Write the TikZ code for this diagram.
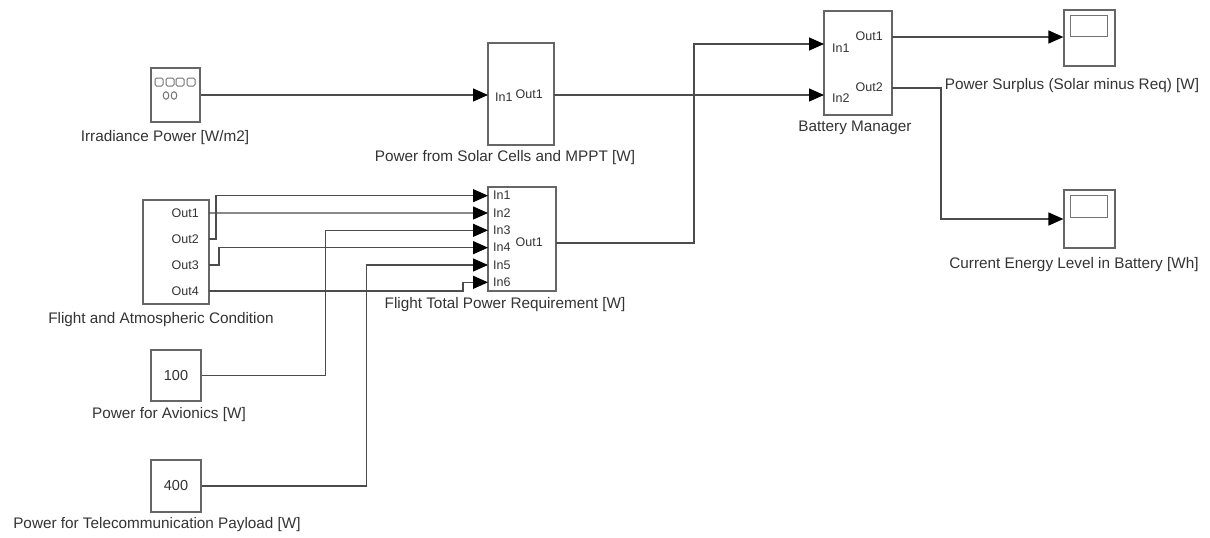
\documentclass[tikz,border=0pt]{standalone}
\usepackage{fontspec}
\setmainfont{Liberation Sans}
\usetikzlibrary{arrows.meta,calc}

\begin{document}
\begin{tikzpicture}[x=1pt,y=-1pt,
  blk/.style={draw=black!60,line width=1.2pt,fill=white,inner sep=0pt,text=black!80,font=\fontsize{14.5}{16}\selectfont},
  wire/.style={draw=black!70,line width=1.4pt},
  arr/.style={wire,-{Triangle[length=15pt,width=13pt,color=black]}},
  lbl/.style={inner sep=0pt,text=black!80,font=\fontsize{15.3}{18}\selectfont},
  port/.style={inner sep=0pt,text=black!80,font=\fontsize{12.5}{14}\selectfont},
  icon/.style={draw=black!55,line width=1pt}]

\useasboundingbox (0,0) rectangle (1210,538);

%模块
\node (irr) [blk,minimum width=49pt,minimum height=54pt] at (175.5,95) {};
\node (sol) [blk,minimum width=66pt,minimum height=102pt] at (521,94) {};
\node (fac) [blk,minimum width=66pt,minimum height=104pt] at (176,252) {};
\node (req) [blk,minimum width=68pt,minimum height=104pt] at (522,239) {};
\node (avi) [blk,minimum width=50pt,minimum height=51pt] at (176,375.5) {100};
\node (tel) [blk,minimum width=50pt,minimum height=52pt] at (176,486) {400};
\node (bat) [blk,minimum width=68pt,minimum height=104pt] at (858,63) {};
\node (sc1) [blk,minimum width=51pt,minimum height=56pt] at (1089.5,38) {};
\node (sc2) [blk,minimum width=51pt,minimum height=58pt] at (1089.5,219) {};

%图标
\foreach \x in {155,166,176,187}
  \draw[icon,rounded corners=1.5pt] (\x,78) rectangle ++(8,8);
\draw[icon] (166,95.5) ellipse [x radius=2.8pt,y radius=3.8pt];
\draw[icon] (174,95.5) ellipse [x radius=2.8pt,y radius=3.8pt];
\draw[icon] ($(sc1.north west)+(7,6)$) rectangle ++(37,21);
\draw[icon] ($(sc2.north west)+(7,6)$) rectangle ++(37,22);

%端口
\coordinate (sol-in1) at (488,95);
\coordinate (sol-out1) at (554,95);
\node (sol-l1) [port,anchor=west] at (495,97) {In1};
\node (sol-l2) [port,anchor=east] at (543,94) {Out1};

\foreach \k in {1,...,4} {
  \coordinate (fac-out\k) at (209,{213+26*(\k-1)});
  \node (fac-l\k) [port,anchor=east] at (199,{213+26*(\k-1)}) {Out\k};
}

\foreach \k in {1,...,6} {
  \coordinate (req-in\k) at (488,{187+17.33*(\k-0.5)});
  \node (req-l\k) [port,anchor=west] at (493,{187+17.33*(\k-0.5)}) {In\k};
}
\coordinate (req-out1) at (556,243);
\node (req-l7) [port,anchor=east] at (543,242) {Out1};

\coordinate (bat-in1) at (824,44);
\coordinate (bat-in2) at (824,95);
\coordinate (bat-out1) at (892,37);
\coordinate (bat-out2) at (892,88);
\node (bat-l1) [port,anchor=west] at (832,48) {In1};
\node (bat-l2) [port,anchor=west] at (832,98) {In2};
\node (bat-l3) [port,anchor=east] at (883,36) {Out1};
\node (bat-l4) [port,anchor=east] at (883,87) {Out2};

%连线
\draw[arr] (irr.east) -- (sol-in1);
\draw[arr] (sol-out1) -- (bat-in2);
\draw[arr] (req-out1) -- ++(138,0) |- (bat-in1);
\draw[arr] (bat-out1) -- (bat-out1 -| sc1.west);
\draw[arr] (bat-out2) -- ++(49,0) |- (sc2.west);
\draw[arr] (fac-out1) -- (req-in2);
\draw[arr] (fac-out2) -- ++(7,0) |- (req-in1);
\draw[arr] (fac-out3) -- ++(10,0) |- (req-in4);
\draw[arr] (fac-out4) -- ++(254,0) |- (req-in6);
\draw[arr] (avi.east) -- ++(124,0) |- (req-in3);
\draw[arr] (tel.east) -- ++(165,0) |- (req-in5);

%名称
\node (irr-t) [lbl] at (165,138) {Irradiance Power [W/m2]};
\node (sol-t) [lbl] at (505,158) {Power from Solar Cells and MPPT [W]};
\node (fac-t) [lbl] at (161,320) {Flight and Atmospheric Condition};
\node (req-t) [lbl] at (505,305) {Flight Total Power Requirement [W]};
\node (avi-t) [lbl] at (169,415) {Power for Avionics [W]};
\node (tel-t) [lbl] at (157,525) {Power for Telecommunication Payload [W]};
\node (bat-t) [lbl] at (855,128) {Battery Manager};
\node (sc1-t) [lbl] at (1072,86) {Power Surplus (Solar minus Req) [W]};
\node (sc2-t) [lbl] at (1074,265) {Current Energy Level in Battery [Wh]};

\end{tikzpicture}
\end{document}
